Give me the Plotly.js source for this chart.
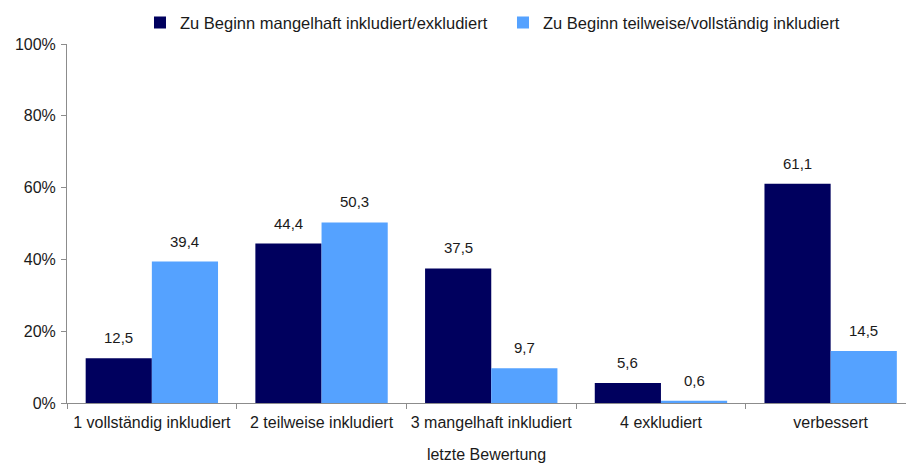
<!DOCTYPE html>
<html>
<head>
<meta charset="utf-8">
<script src="https://cdn.plot.ly/plotly-3.0.1.min.js"></script>
<style>html,body{margin:0;padding:0;background:#fff;}#chart{width:906px;height:464px;}</style>
</head>
<body>
<div id="chart"></div>
<script>
const categories = ["1 vollständig inkludiert", "2 teilweise inkludiert", "3 mangelhaft inkludiert", "4 exkludiert", "verbessert"];
const seriesNames = ["Zu Beginn mangelhaft inkludiert/exkludiert", "Zu Beginn teilweise/vollständig inkludiert"];
const valuesMangelhaft = [12.5, 44.4, 37.5, 5.6, 61.1];
const valuesTeilweise = [39.4, 50.3, 9.7, 0.6, 14.5];
const yTickValues = [0, 20, 40, 60, 80, 100];
const yTickLabels = ["0%", "20%", "40%", "60%", "80%", "100%"];
const xAxisTitle = "letzte Bewertung";

const fmt = v => v.toFixed(1).replace('.', ',');
const fontFamily = '"Liberation Sans", Arial, sans-serif';

const W = 906, H = 464;
const margin = {l: 67, r: 0, t: 44, b: 61, autoexpand: false};
const xRange = [-0.5, 4.444];
const bargap = 0.22;
const catPx = (W - margin.l - margin.r) / (xRange[1] - xRange[0]);
const barPx = catPx * (1 - bargap) / 2;

function barTrace(name, values, color) {
  return {
    type: 'bar',
    name: name,
    x: categories,
    y: values,
    marker: {color: color, line: {width: 0}},
    hoverinfo: 'skip'
  };
}

const data = [
  barTrace(seriesNames[0], valuesMangelhaft, '#00005E'),
  barTrace(seriesNames[1], valuesTeilweise, '#55A2FF')
];

const annotations = [];
[valuesMangelhaft, valuesTeilweise].forEach((vals, si) => {
  vals.forEach((v, i) => {
    annotations.push({
      xref: 'x', yref: 'y', x: categories[i], y: v,
      xshift: (si === 0 ? -1 : 1) * barPx / 2,
      yshift: 10,
      yanchor: 'bottom', xanchor: 'center',
      text: fmt(v), showarrow: false,
      font: {family: fontFamily, size: 15, color: '#1a1a1a'}
    });
  });
});

const layout = {
  width: W,
  height: H,
  margin: margin,
  paper_bgcolor: '#fff',
  plot_bgcolor: '#fff',
  font: {family: fontFamily, size: 16, color: '#1a1a1a'},
  barmode: 'group',
  bargap: bargap,
  bargroupgap: 0,
  showlegend: true,
  legend: {
    orientation: 'h',
    x: 0.087, xanchor: 'left',
    y: 1.059, yanchor: 'middle',
    font: {family: fontFamily, size: 16.5, color: '#1a1a1a'},
    entrywidth: 318, entrywidthmode: 'pixels',
    itemwidth: 30,
    bgcolor: 'rgba(0,0,0,0)'
  },
  annotations: annotations,
  xaxis: {
    type: 'category',
    range: xRange,
    showline: true, linecolor: '#8c8c8c', linewidth: 1,
    ticks: 'outside', tickson: 'boundaries', ticklen: 5, tickcolor: '#8c8c8c',
    ticklabelstandoff: 5,
    tickangle: 0,
    showgrid: false, zeroline: false,
    tickfont: {family: fontFamily, size: 16, color: '#1a1a1a'},
    title: {text: xAxisTitle, font: {family: fontFamily, size: 16, color: '#1a1a1a'}, standoff: 18}
  },
  yaxis: {
    range: [0, 100],
    tickvals: yTickValues, ticktext: yTickLabels,
    showline: true, linecolor: '#8c8c8c', linewidth: 1,
    ticks: 'outside', ticklen: 5, tickcolor: '#8c8c8c',
    ticklabelstandoff: 2,
    showgrid: false, zeroline: false,
    tickfont: {family: fontFamily, size: 16, color: '#1a1a1a'}
  }
};

Plotly.newPlot('chart', data, layout, {staticPlot: true, displayModeBar: false});
</script>
</body>
</html>
